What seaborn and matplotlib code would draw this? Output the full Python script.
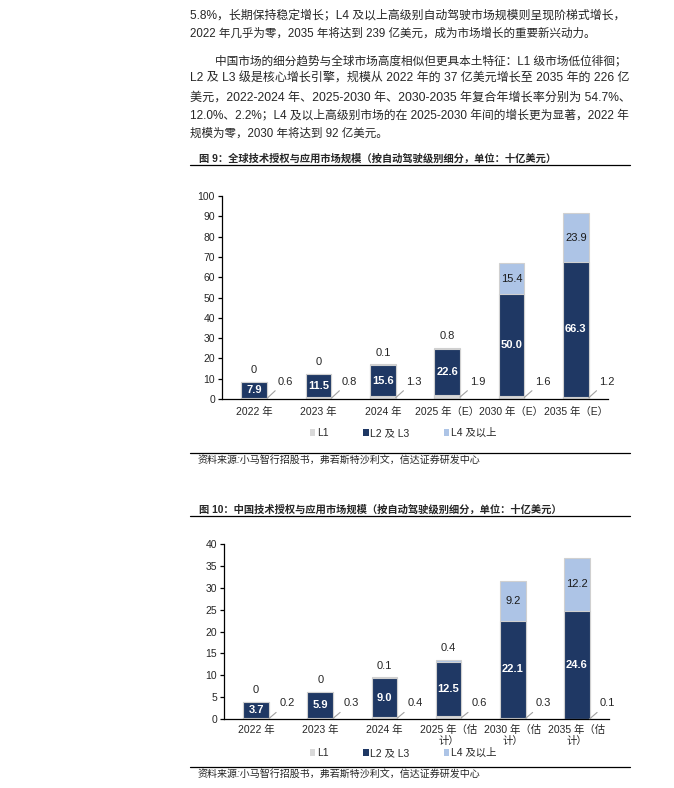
import pandas as pd
import seaborn as sns
import matplotlib.pyplot as plt
from matplotlib.patches import Patch
from matplotlib.lines import Line2D

# ---- data ----
years_global = ["2022 年", "2023 年", "2024 年", "2025 年（E）", "2030 年（E）", "2035 年（E）"]
global_l1 = [0.6, 0.8, 1.3, 1.9, 1.6, 1.2]
global_l23 = [7.9, 11.5, 15.6, 22.6, 50.0, 66.3]
global_l4 = [0, 0, 0.1, 0.8, 15.4, 23.9]

years_china = ["2022 年", "2023 年", "2024 年", "2025 年（估\n计）", "2030 年（估\n计）", "2035 年（估\n计）"]
china_l1 = [0.2, 0.3, 0.4, 0.6, 0.3, 0.1]
china_l23 = [3.7, 5.9, 9.0, 12.5, 22.1, 24.6]
china_l4 = [0, 0, 0.1, 0.4, 9.2, 12.2]

series_names = ["L1", "L2 及 L3", "L4 及以上"]
colors = ["#d9d9d9", "#1f3864", "#adc4e6"]

para1 = [
    "5.8%，长期保持稳定增长；L4 及以上高级别自动驾驶市场规模则呈现阶梯式增长，",
    "2022 年几乎为零，2035 年将达到 239 亿美元，成为市场增长的重要新兴动力。",
]
para2 = [
    "中国市场的细分趋势与全球市场高度相似但更具本土特征：L1 级市场低位徘徊；",
    "L2 及 L3 级是核心增长引擎，规模从 2022 年的 37 亿美元增长至 2035 年的 226 亿",
    "美元，2022-2024 年、2025-2030 年、2030-2035 年复合年增长率分别为 54.7%、",
    "12.0%、2.2%；L4 及以上高级别市场的在 2025-2030 年间的增长更为显著，2022 年",
    "规模为零，2030 年将达到 92 亿美元。",
]
caption9 = "图 9：全球技术授权与应用市场规模（按自动驾驶级别细分，单位：十亿美元）"
caption10 = "图 10：中国技术授权与应用市场规模（按自动驾驶级别细分，单位：十亿美元）"
source = "资料来源:小马智行招股书，弗若斯特沙利文，信达证券研发中心"

sns.set_style("white")
plt.rcParams['font.family'] = ['Liberation Sans', 'Noto Sans CJK SC', 'DejaVu Sans']

W, H = 674, 788
fig = plt.figure(figsize=(W / 100, H / 100), dpi=100)
renderer = fig.canvas.get_renderer()


def fx(px):
    return px / W


def fy(py):
    return 1 - py / H


def put_line(text, x0, x1, y, size, justify):
    t = fig.text(fx(x0), fy(y), text, fontsize=size, va='center', ha='left')
    if justify:
        w = t.get_window_extent(renderer).width
        t.set_fontsize(size * (x1 - x0) / w)
    return t


# body text
put_line(para1[0], 190, 626, 15, 8.3, True)
put_line(para1[1], 190, 607, 34, 8.3, False)
put_line(para2[0], 215, 628, 61, 8.3, True)
for k, ln in enumerate(para2[1:4]):
    put_line(ln, 190, 628, 79 + 18.3 * k, 8.3, True)
put_line(para2[4], 190, 413, 134, 8.3, False)


def rule(y):
    fig.add_artist(Line2D([fx(190), fx(630)], [fy(y), fy(y)], transform=fig.transFigure,
                          color='black', lw=0.9))


def draw_panel(ax, labels, l1, l23, l4, ymax, ystep, l1_label_y, pad):
    df = pd.DataFrame({"year": labels, "l1": l1, "l23": l23, "l4": l4})
    df["mid"] = df["l1"] + df["l23"]
    df["total"] = df["mid"] + df["l4"]
    # stacked look: draw cumulative heights from tallest to shortest
    for col, c in [("total", colors[2]), ("mid", colors[1]), ("l1", colors[0])]:
        sns.barplot(data=df, x="year", y=col, order=labels, color=c, width=0.4,
                    errorbar=None, edgecolor="#d0d0d0", linewidth=0.8, saturation=1, ax=ax)
    for i, r in df.iterrows():
        ax.text(i, r["l1"] + r["l23"] / 2, f"{r['l23']:.1f}", ha='center', va='center',
                color='white', fontsize=8, fontweight='bold')
        v4 = "0" if r["l4"] == 0 else f"{r['l4']:.1f}"
        if r["l4"] > 5:
            ax.text(i, r["mid"] + r["l4"] / 2, v4, ha='center', va='center',
                    color='#1a1a1a', fontsize=8)
        else:
            ax.annotate(v4, (i, r["total"]), xytext=(0, 8.5), textcoords='offset points',
                        ha='center', va='center', fontsize=8)
        ax.annotate(f"{r['l1']:.1f}", xy=(i + 0.2, r["l1"] / 2), xytext=(i + 0.36, l1_label_y),
                    ha='left', va='center', fontsize=8,
                    arrowprops=dict(arrowstyle='-', color='#a0a0a0', lw=0.8,
                                    shrinkA=1, shrinkB=0))
    ax.set_xlim(-0.5, len(labels) - 0.5)
    ax.set_ylim(0, ymax)
    ax.set_yticks(range(0, ymax + 1, ystep))
    ax.set_xlabel("")
    ax.set_ylabel("")
    ax.set_xticks(range(len(labels)))
    ax.set_xticklabels(labels, fontsize=7.5, linespacing=1.2)
    ax.set_xticks([i - 0.5 for i in range(len(labels) + 1)], minor=True)
    ax.tick_params(axis='x', which='major', length=0, pad=pad)
    ax.tick_params(axis='x', which='minor', length=4, width=0.9, direction='out', color='black')
    ax.tick_params(axis='y', length=3, width=0.9, direction='out', color='black',
                   labelsize=7.5, pad=2, left=True)
    for s in ["top", "right"]:
        ax.spines[s].set_visible(False)
    for s in ["left", "bottom"]:
        ax.spines[s].set_color('black')
        ax.spines[s].set_linewidth(0.9)


def legend(y):
    handles = [Patch(facecolor=c, edgecolor='none') for c in colors]
    fig.legend(handles, series_names, loc='center', bbox_to_anchor=(fx(403), fy(y)),
               ncol=3, frameon=False, fontsize=7.5, handlelength=0.55, handleheight=0.55,
               handletextpad=0.15, columnspacing=3.3)


# figure 9
fig.text(fx(199), fy(158), caption9, fontsize=7.4, fontweight='bold', va='center')
rule(165)
ax1 = fig.add_axes([fx(222), fy(399), fx(608) - fx(222), fy(196) - fy(399)])
draw_panel(ax1, years_global, global_l1, global_l23, global_l4, 100, 10, 8.6, 6)
legend(433)
rule(453)
fig.text(fx(198), fy(459.5), source, fontsize=7.2, style='italic', va='center')

# figure 10
fig.text(fx(199), fy(509), caption10, fontsize=7.4, fontweight='bold', va='center')
rule(516)
ax2 = fig.add_axes([fx(224), fy(719), fx(609) - fx(224), fy(544) - fy(719)])
draw_panel(ax2, years_china, china_l1, china_l23, china_l4, 40, 5, 3.6, 4)
legend(753)
rule(767)
fig.text(fx(198), fy(774), source, fontsize=7.2, style='italic', va='center')

fig.savefig("out.png", dpi=100)
